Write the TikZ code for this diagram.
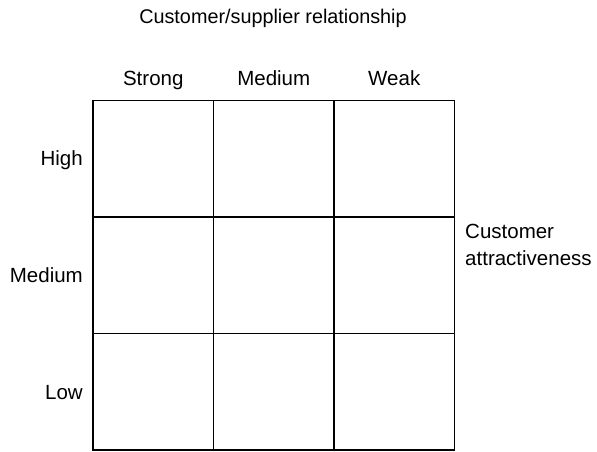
\documentclass[tikz,border=0pt]{standalone}
\usepackage{fontspec}
\setmainfont{Liberation Sans}
\usepackage{tikz}
\usetikzlibrary{positioning}
\tikzset{x=1pt, y=-1pt,
every node/.style={ % Sets the text size for all labels
font=\fontsize{20.5}{27}\selectfont},
cell/.style={ % One box of the grid
draw,
line width=1.2pt,
inner sep=0pt,
minimum width=120.5pt,
minimum height=116.5pt},
collabel/.style={anchor=base},
rowlabel/.style={anchor=base east, inner sep=0pt}}

\begin{document}
\begin{tikzpicture}
\useasboundingbox (0,0) rectangle (597,452);
% grid cells
\node[cell] (hs) at (153.25,158.75) {};
\node[cell] (hm) at (273.75,158.75) {};
\node[cell] (hw) at (394.25,158.75) {};
\node[cell] (ms) at (153.25,275.25) {};
\node[cell] (mm) at (273.75,275.25) {};
\node[cell] (mw) at (394.25,275.25) {};
\node[cell] (ls) at (153.25,391.75) {};
\node[cell] (lm) at (273.75,391.75) {};
\node[cell] (lw) at (394.25,391.75) {};
% column heads
\node[collabel, font=\fontsize{19.8}{24}\selectfont] (title) at (273,24) {Customer/supplier relationship};
\node[collabel] (strong) at (153.25,85) {Strong};
\node[collabel] (medium) at (273.75,85) {Medium};
\node[collabel] (weak) at (394.25,85) {Weak};
% row heads
\node[rowlabel] (high) at (83,165) {High};
\node[rowlabel] (mid) at (83,282) {Medium};
\node[rowlabel] (low) at (83,399) {Low};
\node[anchor=base west, inner sep=0pt, align=left] (attr) at (465,265) {Customer\\attractiveness};
\end{tikzpicture}
\end{document}
